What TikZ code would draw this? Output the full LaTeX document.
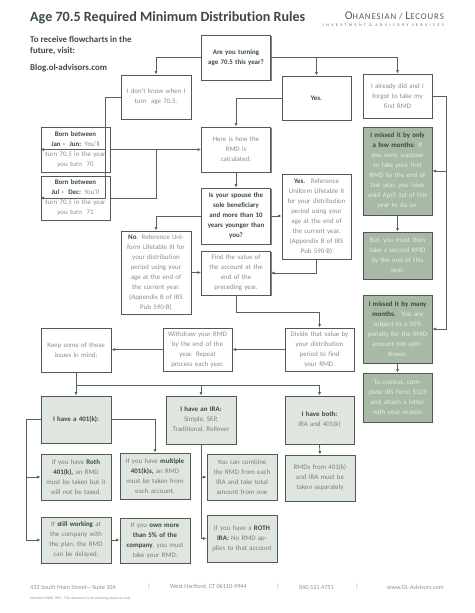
\documentclass[tikz,border=0pt]{standalone}
\usepackage{fontspec}
\setmainfont{Carlito}[Ligatures=NoCommon]
\usetikzlibrary{arrows.meta,shadows}

\definecolor{boxline}{HTML}{4E5C50}
\definecolor{wire}{HTML}{56635A}
\definecolor{dark}{HTML}{3B4A3D}
\definecolor{txt}{HTML}{8A8C8A}
\definecolor{pale}{HTML}{DFE6DF}
\definecolor{sage}{HTML}{A8BAA5}
\definecolor{sagetxt}{HTML}{E6ECE3}
\definecolor{foot}{HTML}{8E918E}

\newcommand\bt[1]{\textbf{\color{dark}#1}}

\begin{document}
\begin{tikzpicture}[
        x=1pt, y=-1pt,
        every node/.append style={inner sep=0pt},
        box/.style={draw=boxline, line width=1pt, fill=white, text=txt,
            align=center, text width=68pt, inner xsep=.5pt,
            minimum width=69pt, minimum height=44pt,
            font=\fontsize{6.9}{10}\selectfont,
            drop shadow={shadow xshift=1.2pt, shadow yshift=-1.2pt,
                fill=black!70, opacity=.7}},
        palebox/.style={box, fill=pale, text=txt!90!black},
        sagebox/.style={box, fill=sage, text=sagetxt},
        arr/.style={draw=wire, line width=.8pt,
            -{Latex[length=3.5pt,width=3.2pt]}},
        wireline/.style={draw=wire, line width=.8pt}
    ]
    \useasboundingbox (0,0) rectangle (474,613);

    % heading
    \node[anchor=west, text=dark, font=\fontsize{14.1}{16}\bfseries\selectfont]
        (title) at (30,18) {Age 70.5 Required Minimum Distribution Rules};
    \node[anchor=east, text=black!65, font=\fontsize{8.8}{9}\selectfont\addfontfeature{LetterSpace=10}]
        (logo) at (444,16) {{\fontsize{11.8}{11}\selectfont O}HANESIAN / {\fontsize{11.8}{11}\selectfont L}ECOURS};
    \node[anchor=east, text=black!60,
        font=\fontsize{4}{4}\selectfont\addfontfeature{LetterSpace=60}]
        (tagline) at (444,25.5) {INVESTMENT \& ADVISORY SERVICES};
    \node[anchor=north west, align=left, text=dark,
        font=\fontsize{8.9}{11}\bfseries\selectfont]
        (visit) at (30,36) {To receive flowcharts in the\\future, visit:};
    \node[anchor=west, text=dark, font=\fontsize{8.9}{11}\bfseries\selectfont]
        (blog) at (30,68) {Blog.ol-advisors.com};

    % top row
    \node[box, minimum height=45pt, text=dark, font=\fontsize{6.9}{10}\bfseries\selectfont]
        (q1) at (236,57.5) {Are you turning\\age 70.5 this year?};
    \node[box, minimum width=70pt] (dunno) at (156,97) {I don't know when I\\turn~ age 70.5.};
    \node[box, text=dark, font=\fontsize{6.9}{10}\bfseries\selectfont]
        (yes) at (316.5,98) {Yes.};
    \node[box] (already) at (397.5,96) {I already did and I\\forgot to take my\\first RMD};

    % left / middle column
    \node[box, minimum height=45pt] (janjun) at (75.5,149.5)
        {\bt{Born between}\\\bt{Jan -~ Jun:} You'll\\turn 70.5 in the year\\you turn~ 70};
    \node[box] (juldec) at (75.5,198)
        {\bt{Born between}\\\bt{Jul -~ Dec:} You'll\\turn 70.5 in the year\\you turn~ 71};
    \node[box, minimum height=45pt] (howcalc) at (236,149.5) {Here is how the\\RMD is\\calculated:};
    \node[box, minimum height=56pt, text=dark, font=\fontsize{6.9}{10}\bfseries\selectfont]
        (spouse) at (236,216) {Is your spouse the\\sole beneficiary\\and more than 10\\years younger than\\you?};
    \node[box, minimum height=85pt] (yesII) at (316.5,216.5)
        {\bt{Yes.}~ Reference\\Uniform Lifetable II\\for your distribution\\period using your\\age at the end of\\the current year.\\(Appendix B of IRS\\Pub 590-B)};
    \node[box, minimum width=70pt, minimum height=83pt] (noIII) at (156,272.5)
        {\bt{No}. Reference Uni-\\form Lifetable III for\\your distribution\\period using your\\age at the end of\\the current year.\\(Appendix B of IRS\\Pub 590-B)};
    \node[box] (findval) at (236,273) {Find the value of\\the account at the\\end of the\\preceding year.};

    \node[box, minimum height=43pt] (divide) at (319.5,349.5)
        {Divide that value by\\your distribution\\period to find\\your RMD.};
    \node[box, minimum height=43pt] (withdraw) at (197.5,349.5)
        {Withdraw your RMD\\by the end of the\\year. Repeat\\process each year.};
    \node[box, minimum width=70pt] (keep) at (76,350) {Keep some of these\\issues in mind:};

    % plan types
    \node[palebox, minimum width=70pt, minimum height=47pt] (k401) at (76,419.5) {\bt{I have a 401(k):}};
    \node[palebox, minimum width=70pt, minimum height=48pt] (ira) at (201,420)
        {\bt{I have an IRA:}\\Simple, SEP,\\Traditional, Rollover};
    \node[palebox, minimum height=48pt] (both) at (319.5,420) {\bt{I have both:}\\IRA and 401(k)};

    \node[palebox, minimum width=70pt, minimum height=46pt] (roth401) at (76,477)
        {If you have \bt{Roth}\\\bt{401(k),} an RMD\\must be taken but it\\will not be taxed.};
    \node[palebox, minimum width=70pt, minimum height=46pt] (multi) at (155,476)
        {If you have \bt{multiple}\\\bt{401(k)s,} an RMD\\must be taken from\\each account.};
    \node[palebox, minimum width=70pt, minimum height=46pt] (combine) at (242,477)
        {You can combine\\the RMD from each\\IRA and take total\\amount from one};
    \node[palebox, minimum width=70pt, minimum height=46pt] (separate) at (320,478)
        {RMDs from 401(k)\\and IRA must be\\taken separately};
    \node[palebox, minimum width=70pt, minimum height=46pt] (working) at (76,540)
        {If \bt{still working} at\\the company with\\the plan, the RMD\\can be delayed.};
    \node[palebox, minimum width=70pt, minimum height=45pt] (own5) at (155,540.5)
        {If you \bt{own more}\\\bt{than 5\% of the}\\\bt{company}, you must\\take your RMD.};
    \node[palebox, minimum width=70pt, minimum height=47pt] (rothira) at (242,538.5)
        {If you have a \bt{ROTH}\\\bt{IRA:} No RMD ap-\\plies to that account};

    % missed RMD column
    \node[sagebox, minimum height=88pt] (fewmonths) at (397.5,171)
        {\bt{I missed it by only}\\\bt{a few months:} If\\you were suppose\\to take your first\\RMD by the end of\\last year, you have\\until April 1st of this\\year to do so.};
    \node[sagebox, minimum height=47pt] (secondrmd) at (397.5,255.5)
        {But, you must then\\take a second RMD\\by the end of this\\year.};
    \node[sagebox, minimum height=68pt] (manymonths) at (397.5,329)
        {\bt{I missed it by many}\\\bt{months.}~ You are\\subject to a 50\%\\penalty for the RMD\\amount not with-\\drawn.};
    \node[sagebox, minimum height=49pt] (contest) at (397.5,397.5)
        {To contest, com-\\plete IRS Form 5329\\and attach a letter\\with your reason};

    % connectors
    \draw[arr] (q1.west) -| (dunno.north);
    \draw[arr] (q1.east) -| (already.north);
    \draw[arr] (q1.east -| yes.north) -- (yes.north);
    \draw[arr] (dunno.west) -- ++(-15,0) coordinate (dbus) |- (juldec.west);
    \draw[arr] (dbus |- janjun.west) -- (janjun.west);
    \draw[arr] (janjun.east) -- (howcalc.west);
    \draw[wireline] (juldec.east) -| (dunno.south |- janjun.east);
    \draw[arr] (yes.west) -| (howcalc.north);
    \draw[arr] (howcalc.south) -- (spouse.north);
    \draw[arr] (spouse.east) -- (spouse.east -| yesII.west);
    \draw[arr] (spouse.west) -| (noIII.north);
    \draw[arr] (noIII.east) -- (noIII.east -| findval.west);
    \draw[arr] (yesII.south) |- (findval.east);
    \draw[arr] (findval.south) -- ++(0,17) -| (divide.north);
    \draw[arr] (divide.west) -- (withdraw.east);
    \draw[arr] (withdraw.west) -- (withdraw.west -| keep.east);
    \draw[arr] (keep.south) -- ++(0,13) coordinate (kbus) -| (both.north);
    \draw[arr] (kbus) -- (k401.north);
    \draw[arr] (kbus -| ira.north) -- (ira.north);
    \draw[arr] (k401.west) -- ++(-14,0) coordinate (kl) |- (working.west);
    \draw[arr] (kl |- roth401.west) -- (roth401.west);
    \draw[arr] (k401.east) -| (multi.north);
    \draw[arr] (working.east) -- (working.east -| own5.west);
    \draw[arr] (ira.south) |- (rothira.west);
    \draw[arr] (ira.south |- combine.west) -- (combine.west);
    \draw[arr] (both.south) -- (separate.north);
    \draw[arr] (already.east) -- ++(14,0) coordinate (rbus) |- (manymonths.east);
    \draw[arr] (rbus |- fewmonths.east) -- (fewmonths.east);
    \draw[arr] (fewmonths.south) -- (secondrmd.north);
    \draw[arr] (manymonths.south) -- (contest.north);

    % footer
    \begin{scope}[every node/.append style={text=foot, font=\fontsize{6.2}{7}\selectfont}]
        \node[anchor=west] (street) at (30,587) {433 South Main Street---Suite 104};
        \node (bar1) at (149,587) {|};
        \node[anchor=west] (town) at (170,587) {West Hartford, CT 06110-9944};
        \node (bar2) at (278,587) {|};
        \node[anchor=west] (phone) at (299,587) {860.521.4751};
        \node (bar3) at (357,587) {|};
        \node[anchor=east] (web) at (444,587) {www.OL-Advisors.com};
        \node[anchor=west, font=\fontsize{3.7}{4}\selectfont] (member) at (30,599)
            {Member FINRA, SIPC.~ This document is for planning purposes only.};
    \end{scope}
\end{tikzpicture}
\end{document}
